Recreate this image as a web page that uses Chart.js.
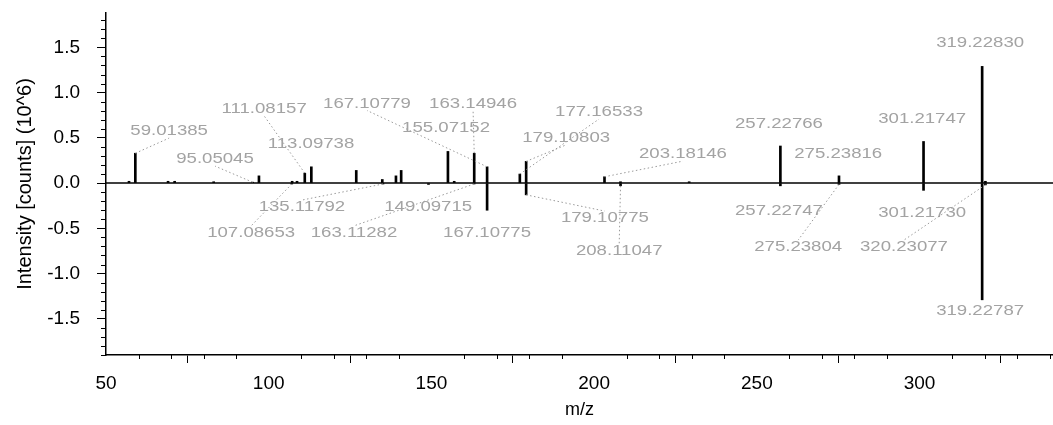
<!DOCTYPE html>
<html>
<head>
<meta charset="utf-8">
<script src="https://cdn.jsdelivr.net/npm/chart.js@4.4.1/dist/chart.umd.min.js"></script>
<style>
    body { margin: 0; background: #fff; }
</style>
</head>
<body>
<canvas id="spectrumChart" width="1053" height="425"></canvas>
<script>
    // peaks above the axis (m/z, intensity in 10^6 counts)
    const upperMz = [57.07, 59.01385, 69.07, 71.09, 83.09, 95.05045, 97.0, 107.2, 108.7, 111.08157,
        113.09738, 126.9, 134.9, 139.1, 140.7, 155.07152, 157.0, 163.14946, 167.10779, 177.16533,
        179.10803, 203.18146, 208.1, 229.2, 257.22766, 275.23816, 301.21747, 319.22830, 320.23];
    const upperInt = [0.02, 0.33, 0.02, 0.02, 0.015, 0.01, 0.08, 0.02, 0.02, 0.11,
        0.18, 0.14, 0.04, 0.08, 0.14, 0.35, 0.02, 0.33, 0.18, 0.10,
        0.24, 0.07, 0.015, 0.015, 0.41, 0.08, 0.46, 1.29, 0.02];

    // mirrored peaks below the axis
    const lowerMz = [107.08653, 135.11792, 149.09715, 163.11282, 167.10775, 179.10775,
        208.11047, 257.22747, 275.23804, 301.21730, 319.22787, 320.23077];
    const lowerInt = [-0.01, -0.01, -0.015, -0.01, -0.30, -0.13,
        -0.03, -0.03, -0.015, -0.08, -1.29, -0.02];

    // annotated peaks and where their text sits (axis units)
    const upperLabelMz = [59.01385, 95.05045, 111.08157, 113.09738, 167.10779, 163.14946, 155.07152,
        177.16533, 179.10803, 203.18146, 257.22766, 275.23816, 301.21747, 319.22830];
    const upperLabelX = [69.4, 83.5, 98.6, 113.0, 130.2, 162.8, 154.5,
        201.5, 191.4, 227.3, 256.8, 275.0, 300.8, 318.6];
    const upperLabelY = [0.575, 0.265, 0.82, 0.43, 0.88, 0.88, 0.61,
        0.785, 0.50, 0.32, 0.66, 0.32, 0.71, 1.55];

    const lowerLabelMz = [135.11792, 107.08653, 163.11282, 149.09715, 167.10775, 179.10775,
        208.11047, 257.22747, 275.23804, 301.21730, 320.23077, 319.22787];
    const lowerLabelX = [110.2, 94.6, 126.2, 149.0, 167.1, 203.3,
        207.7, 256.8, 262.7, 300.8, 295.2, 318.6];
    const lowerLabelY = [-0.265, -0.55, -0.55, -0.265, -0.55, -0.387,
        -0.75, -0.31, -0.707, -0.33, -0.707, -1.414];

    const xTicks = [50, 100, 150, 200, 250, 300];
    const yTicks = [-1.5, -1.0, -0.5, 0.0, 0.5, 1.0, 1.5];

    const fontFamily = '"Liberation Sans", Arial, sans-serif';

    // zero line, minor ticks, peak labels with dotted leaders
    const spectrumExtras = {
        id: 'spectrumExtras',
        afterDatasetsDraw(chart) {
            const ctx = chart.ctx;
            const xs = chart.scales.x;
            const ys = chart.scales.y;
            const area = chart.chartArea;

            ctx.save();
            ctx.strokeStyle = '#000';
            ctx.lineWidth = 1.5;
            const y0 = ys.getPixelForValue(0);
            ctx.beginPath();
            ctx.moveTo(area.left, y0);
            ctx.lineTo(area.right, y0);
            ctx.stroke();

            ctx.lineWidth = 1;
            ctx.beginPath();
            for (let v = 60; v <= xs.max; v += 10) {
                if (v % 50 === 0) continue;
                const px = Math.round(xs.getPixelForValue(v)) + 0.5;
                ctx.moveTo(px, area.bottom);
                ctx.lineTo(px, area.bottom + 4);
            }
            for (let k = -19; k <= 18; k++) {
                if (k % 5 === 0) continue;
                const py = Math.round(ys.getPixelForValue(k / 10)) + 0.5;
                ctx.moveTo(area.left - 5, py);
                ctx.lineTo(area.left, py);
            }
            ctx.stroke();

            const drawLabels = (mzList, intList, labMz, labX, labY, below) => {
                labMz.forEach((mz, i) => {
                    const idx = mzList.indexOf(mz);
                    const tipX = xs.getPixelForValue(mz);
                    const tipY = ys.getPixelForValue(intList[idx]);
                    const lx = xs.getPixelForValue(labX[i]);
                    const ly = ys.getPixelForValue(labY[i]);
                    const edgeY = below ? ly - 7 : ly + 7;

                    if (Math.abs(lx - tipX) > 22 || Math.abs(edgeY - tipY) > 22) {
                        ctx.save();
                        ctx.strokeStyle = '#9a9a9a';
                        ctx.lineWidth = 1;
                        ctx.setLineDash([1.5, 2.5]);
                        ctx.beginPath();
                        ctx.moveTo(tipX, tipY);
                        ctx.lineTo(lx, edgeY);
                        ctx.stroke();
                        ctx.restore();
                    }

                    ctx.save();
                    ctx.fillStyle = '#a3a3a3';
                    ctx.font = '15.5px ' + fontFamily;
                    ctx.textAlign = 'center';
                    ctx.textBaseline = 'middle';
                    ctx.translate(lx, ly);
                    ctx.scale(1.2, 1);
                    ctx.fillText(mz.toFixed(5), 0, 0);
                    ctx.restore();
                });
            };
            drawLabels(upperMz, upperInt, upperLabelMz, upperLabelX, upperLabelY, false);
            drawLabels(lowerMz, lowerInt, lowerLabelMz, lowerLabelX, lowerLabelY, true);
            ctx.restore();
        }
    };

    const ctx = document.getElementById('spectrumChart').getContext('2d');
    new Chart(ctx, {
        type: 'bar',
        data: {
            datasets: [
                {
                    data: upperMz.map((x, i) => ({x: x, y: upperInt[i]})),
                    backgroundColor: '#000',
                    barThickness: 2
                },
                {
                    data: lowerMz.map((x, i) => ({x: x, y: lowerInt[i]})),
                    backgroundColor: '#000',
                    barThickness: 2
                }
            ]
        },
        options: {
            responsive: false,
            animation: false,
            events: [],
            grouped: false,
            layout: {
                autoPadding: false,
                padding: {top: 13, right: 0, bottom: 0, left: 0}
            },
            scales: {
                x: {
                    type: 'linear',
                    min: 50,
                    max: 341,
                    offset: false,
                    afterBuildTicks: scale => {
                        scale.ticks = xTicks.map(v => ({value: v}));
                    },
                    afterFit: scale => {
                        scale.height = 70;
                        scale.paddingLeft = 0;
                        scale.paddingRight = 0;
                    },
                    ticks: {
                        autoSkip: false,
                        maxRotation: 0,
                        padding: 9,
                        color: '#000',
                        font: {family: fontFamily, size: 19}
                    },
                    grid: {
                        drawOnChartArea: false,
                        drawTicks: true,
                        tickLength: 8,
                        color: '#000'
                    },
                    border: {color: '#000', width: 1.5},
                    title: {
                        display: true,
                        text: 'm/z',
                        color: '#000',
                        font: {family: fontFamily, size: 18},
                        padding: {top: 0, bottom: 4}
                    }
                },
                y: {
                    min: -1.9,
                    max: 1.88,
                    afterBuildTicks: scale => {
                        scale.ticks = yTicks.map(v => ({value: v}));
                    },
                    afterFit: scale => {
                        scale.width = 106;
                        scale.paddingTop = 0;
                        scale.paddingBottom = 0;
                    },
                    ticks: {
                        padding: 17,
                        color: '#000',
                        font: {family: fontFamily, size: 19},
                        callback: value => value.toFixed(1)
                    },
                    grid: {
                        drawOnChartArea: false,
                        drawTicks: true,
                        tickLength: 9,
                        color: '#000'
                    },
                    border: {color: '#000', width: 1.5},
                    title: {
                        display: true,
                        text: 'Intensity [counts] (10^6)',
                        color: '#000',
                        font: {family: fontFamily, size: 20},
                        padding: {top: 13, bottom: 0}
                    }
                }
            },
            plugins: {
                legend: {display: false},
                tooltip: {enabled: false}
            }
        },
        plugins: [spectrumExtras]
    });
</script>
</body>
</html>
